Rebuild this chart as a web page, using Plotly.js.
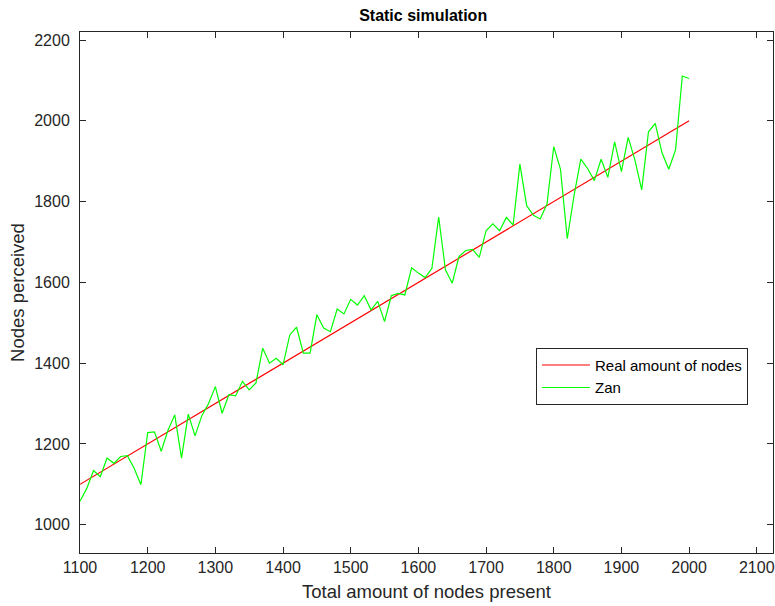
<!DOCTYPE html>
<html>
<head>
<meta charset="utf-8">
<script src="https://cdn.plot.ly/plotly-3.0.1.min.js"></script>
<style>
  html, body { margin: 0; padding: 0; background: #ffffff; }
  #chart { width: 775px; height: 606px; }
</style>
</head>
<body>
<div id="chart"></div>
<script>
// Network sizes (total nodes present), one sample every 10 nodes
const nodesPresent = [
  1100, 1110, 1120, 1130, 1140, 1150, 1160, 1170, 1180, 1190,
  1200, 1210, 1220, 1230, 1240, 1250, 1260, 1270, 1280, 1290,
  1300, 1310, 1320, 1330, 1340, 1350, 1360, 1370, 1380, 1390,
  1400, 1410, 1420, 1430, 1440, 1450, 1460, 1470, 1480, 1490,
  1500, 1510, 1520, 1530, 1540, 1550, 1560, 1570, 1580, 1590,
  1600, 1610, 1620, 1630, 1640, 1650, 1660, 1670, 1680, 1690,
  1700, 1710, 1720, 1730, 1740, 1750, 1760, 1770, 1780, 1790,
  1800, 1810, 1820, 1830, 1840, 1850, 1860, 1870, 1880, 1890,
  1900, 1910, 1920, 1930, 1940, 1950, 1960, 1970, 1980, 1990,
  2000
];

// Ground truth: the real amount of nodes
const realAmount = nodesPresent.slice();

// Nodes perceived by the Zan estimator
const zanPerceived = [
  1058, 1090, 1134, 1119, 1165, 1152, 1169, 1171, 1140, 1099,
  1228, 1230, 1182, 1234, 1272, 1165, 1274, 1220, 1270, 1300,
  1342, 1276, 1322, 1319, 1355, 1334, 1351, 1437, 1400, 1412,
  1396, 1470, 1489, 1425, 1425, 1520, 1487, 1478, 1534, 1522,
  1558, 1544, 1567, 1532, 1553, 1503, 1567, 1573, 1569, 1636,
  1623, 1612, 1635, 1762, 1631, 1598, 1664, 1679, 1682, 1662,
  1728, 1745, 1728, 1761, 1742, 1893, 1790, 1766, 1757, 1794,
  1936, 1880, 1708, 1815, 1905, 1882, 1852, 1905, 1860, 1948,
  1874, 1959, 1903, 1829, 1973, 1994, 1921, 1880, 1928, 2111,
  2105
];

const xTicks = [1100, 1200, 1300, 1400, 1500, 1600, 1700, 1800, 1900, 2000, 2100];
const yTicks = [1000, 1200, 1400, 1600, 1800, 2000, 2200];

const axisColor = '#262626';
const fontFamily = '"Liberation Sans", Arial, Helvetica, sans-serif';

const traces = [
  {
    x: nodesPresent, y: realAmount, type: 'scatter', mode: 'lines',
    name: 'Real amount of nodes',
    line: { color: '#ff0000', width: 1.2 }
  },
  {
    x: nodesPresent, y: zanPerceived, type: 'scatter', mode: 'lines',
    name: 'Zan',
    line: { color: '#00ff00', width: 1.2 }
  }
];

const commonAxis = {
  showline: true, linecolor: axisColor, linewidth: 1,
  mirror: 'ticks', ticks: 'inside', ticklen: 6, tickcolor: axisColor, tickwidth: 1,
  showgrid: false, zeroline: false,
  tickfont: { family: fontFamily, size: 16, color: axisColor }
};

const layout = {
  width: 775, height: 606,
  paper_bgcolor: '#ffffff', plot_bgcolor: '#ffffff',
  margin: { l: 80, r: 2, t: 32, b: 53 },
  showlegend: true,
  title: {
    text: '<b>Static simulation</b>',
    font: { family: fontFamily, size: 16, color: '#000000' },
    xref: 'container', x: 0.546, xanchor: 'center',
    yref: 'container', y: 0.974, yanchor: 'middle'
  },
  xaxis: Object.assign({}, commonAxis, {
    range: [1100, 2124], tickvals: xTicks, ticktext: xTicks.map(String),
    title: { text: 'Total amount of nodes present', standoff: 9,
             font: { family: fontFamily, size: 18.5, color: axisColor } }
  }),
  yaxis: Object.assign({}, commonAxis, {
    range: [930, 2220], tickvals: yTicks, ticktext: yTicks.map(String),
    ticklabelstandoff: 6,
    title: { text: 'Nodes perceived', standoff: 4,
             font: { family: fontFamily, size: 18.5, color: axisColor } }
  }),
  legend: {
    x: 0.658, y: 0.394, xanchor: 'left', yanchor: 'top',
    bgcolor: '#ffffff', bordercolor: axisColor, borderwidth: 1,
    font: { family: fontFamily, size: 15, color: '#000000' },
    tracegroupgap: 0, itemwidth: 48
  }
};

Plotly.newPlot('chart', traces, layout, { displayModeBar: false, staticPlot: true });
</script>
</body>
</html>
